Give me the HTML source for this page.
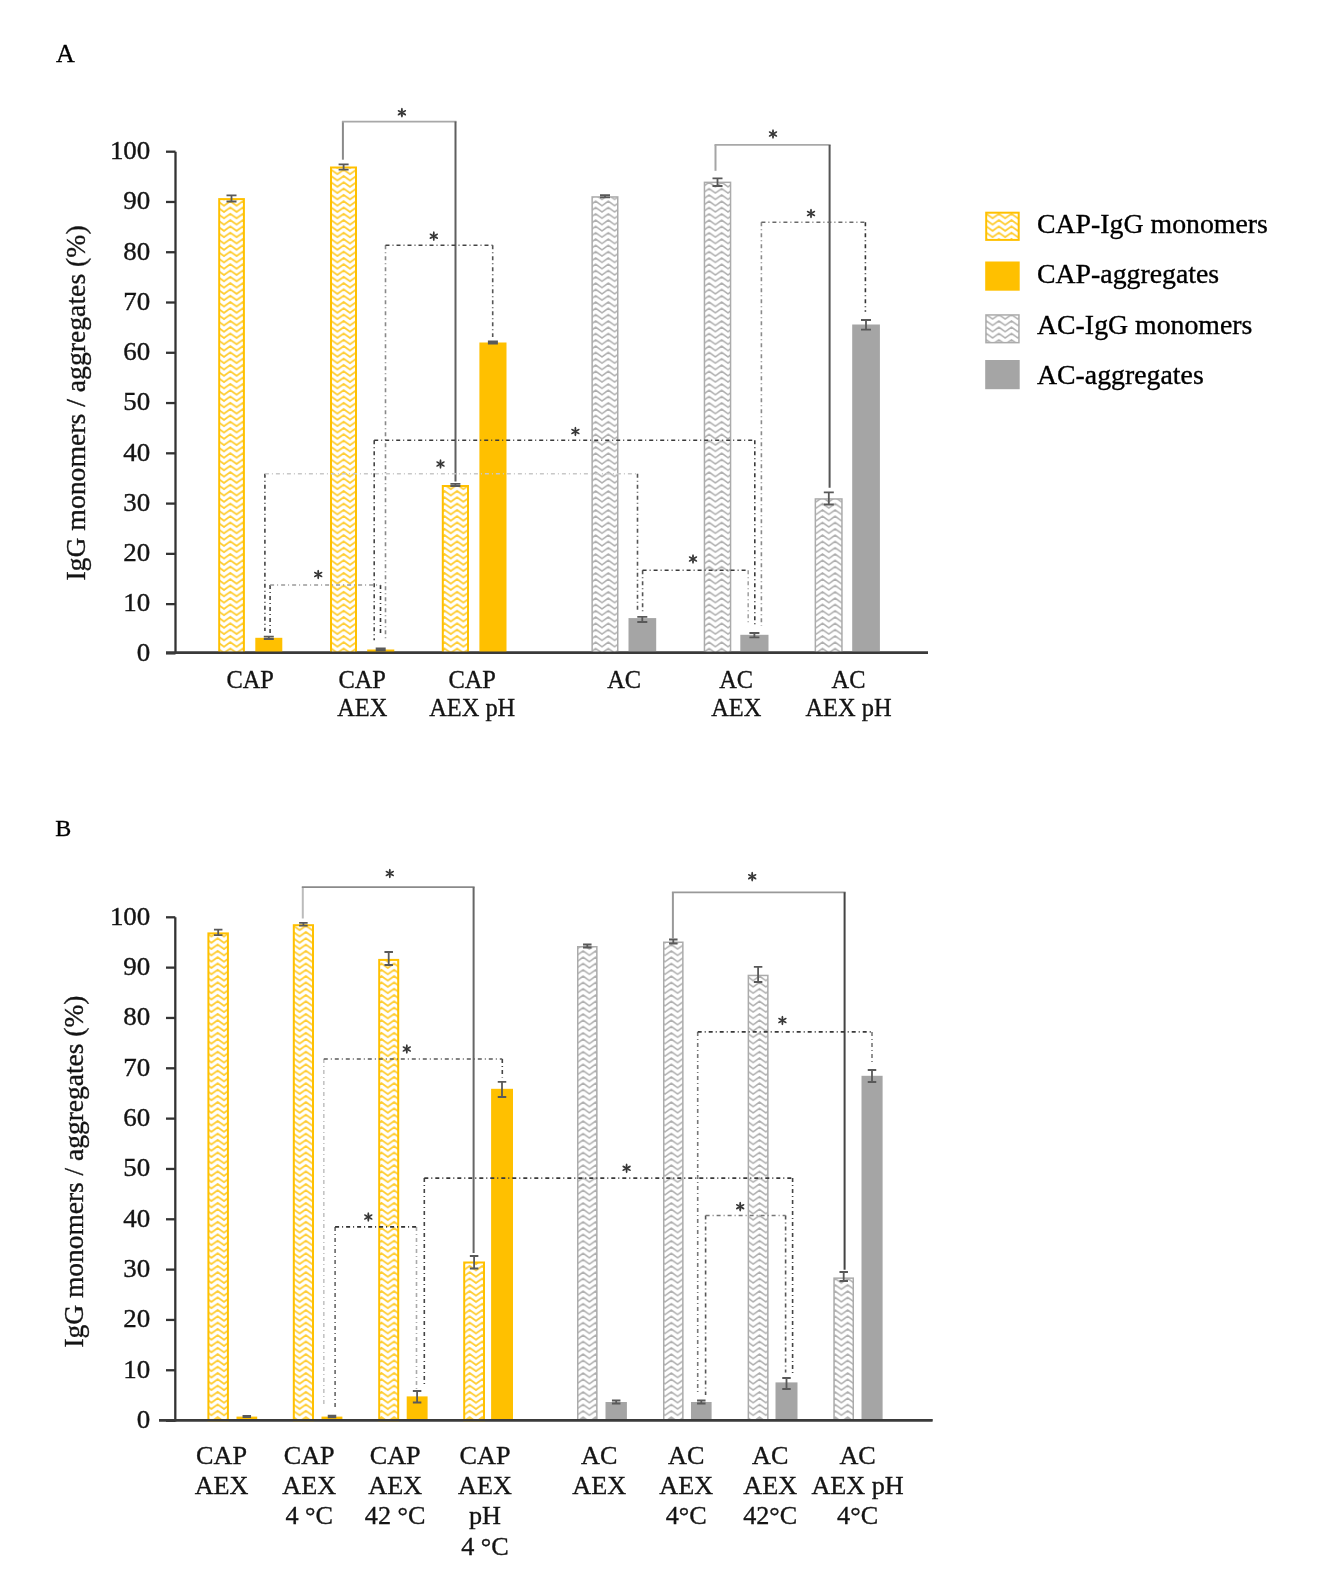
<!DOCTYPE html>
<html><head><meta charset="utf-8"><style>
html,body{margin:0;padding:0;background:#fff;}
svg{display:block;filter:blur(0.5px);}
text{font-family:"Liberation Serif", serif;stroke-width:0.35px;}
</style></head><body>
<svg width="1325" height="1580" viewBox="0 0 1325 1580">
<rect width="1325" height="1580" fill="#fff"/>
<defs>
<pattern id="wy" patternUnits="userSpaceOnUse" width="12.6" height="6.3" x="337.400" y="302.000"><rect width="12.6" height="6.3" fill="#fff"/><path d="M-2,-3.229L0,-1.800L6.300,-6.300L12.600,-1.800L14.600,-3.229M-2,3.071L0,4.500L6.300,0.000L12.600,4.500L14.600,3.071M-2,9.371L0,10.800L6.300,6.300L12.600,10.800L14.600,9.371" stroke="#FFC000" stroke-width="1.8" fill="none" stroke-opacity="0.8"/></pattern>
<pattern id="wg" patternUnits="userSpaceOnUse" width="12.6" height="6.3" x="337.400" y="302.000"><rect width="12.6" height="6.3" fill="#fff"/><path d="M-2,-3.229L0,-1.800L6.300,-6.300L12.600,-1.800L14.600,-3.229M-2,3.071L0,4.500L6.300,0.000L12.600,4.500L14.600,3.071M-2,9.371L0,10.800L6.300,6.300L12.600,10.800L14.600,9.371" stroke="#A0A0A0" stroke-width="1.55" fill="none" stroke-opacity="0.85"/></pattern>
</defs>
<text x="65.30" y="62.00" font-size="26" text-anchor="middle" fill="#000" stroke="#000" >A</text>
<path d="M175.5,151.70V654.00" stroke="#333" stroke-width="2.3" fill="none"/>
<path d="M166,653.40H175.5" stroke="#333" stroke-width="2.3" fill="none"/>
<text x="0" y="0" font-size="24.5" text-anchor="end" fill="#141414" stroke="#141414" transform="translate(150.3,660.70) scale(1.1,1)">0</text>
<path d="M166,604.13H175.5" stroke="#333" stroke-width="2.3" fill="none"/>
<text x="0" y="0" font-size="24.5" text-anchor="end" fill="#141414" stroke="#141414" transform="translate(150.3,611.43) scale(1.1,1)">10</text>
<path d="M166,553.86H175.5" stroke="#333" stroke-width="2.3" fill="none"/>
<text x="0" y="0" font-size="24.5" text-anchor="end" fill="#141414" stroke="#141414" transform="translate(150.3,561.16) scale(1.1,1)">20</text>
<path d="M166,503.59H175.5" stroke="#333" stroke-width="2.3" fill="none"/>
<text x="0" y="0" font-size="24.5" text-anchor="end" fill="#141414" stroke="#141414" transform="translate(150.3,510.89) scale(1.1,1)">30</text>
<path d="M166,453.32H175.5" stroke="#333" stroke-width="2.3" fill="none"/>
<text x="0" y="0" font-size="24.5" text-anchor="end" fill="#141414" stroke="#141414" transform="translate(150.3,460.62) scale(1.1,1)">40</text>
<path d="M166,403.05H175.5" stroke="#333" stroke-width="2.3" fill="none"/>
<text x="0" y="0" font-size="24.5" text-anchor="end" fill="#141414" stroke="#141414" transform="translate(150.3,410.35) scale(1.1,1)">50</text>
<path d="M166,352.78H175.5" stroke="#333" stroke-width="2.3" fill="none"/>
<text x="0" y="0" font-size="24.5" text-anchor="end" fill="#141414" stroke="#141414" transform="translate(150.3,360.08) scale(1.1,1)">60</text>
<path d="M166,302.51H175.5" stroke="#333" stroke-width="2.3" fill="none"/>
<text x="0" y="0" font-size="24.5" text-anchor="end" fill="#141414" stroke="#141414" transform="translate(150.3,309.81) scale(1.1,1)">70</text>
<path d="M166,252.24H175.5" stroke="#333" stroke-width="2.3" fill="none"/>
<text x="0" y="0" font-size="24.5" text-anchor="end" fill="#141414" stroke="#141414" transform="translate(150.3,259.54) scale(1.1,1)">80</text>
<path d="M166,201.97H175.5" stroke="#333" stroke-width="2.3" fill="none"/>
<text x="0" y="0" font-size="24.5" text-anchor="end" fill="#141414" stroke="#141414" transform="translate(150.3,209.27) scale(1.1,1)">90</text>
<path d="M166,151.70H175.5" stroke="#333" stroke-width="2.3" fill="none"/>
<text x="0" y="0" font-size="24.5" text-anchor="end" fill="#141414" stroke="#141414" transform="translate(150.3,159.00) scale(1.1,1)">100</text>
<path d="M166,652.80H928" stroke="#3a3a3a" stroke-width="2.6" fill="none"/>
<rect x="219.20" y="199.10" width="24.70" height="453.70" fill="url(#wy)" stroke="#FFC000" stroke-width="2.0"/>
<rect x="255.30" y="637.80" width="27.00" height="15.00" fill="#FFC000"/>
<rect x="331.00" y="167.50" width="25.00" height="485.30" fill="url(#wy)" stroke="#FFC000" stroke-width="2.0"/>
<rect x="367.20" y="649.50" width="27.10" height="3.30" fill="#FFC000"/>
<rect x="442.80" y="486.00" width="25.20" height="166.80" fill="url(#wy)" stroke="#FFC000" stroke-width="2.0"/>
<rect x="479.40" y="342.50" width="27.10" height="310.30" fill="#FFC000"/>
<rect x="592.15" y="196.95" width="25.60" height="455.85" fill="url(#wg)" stroke="#ABABAB" stroke-width="1.5"/>
<rect x="628.50" y="618.10" width="27.70" height="34.70" fill="#A5A5A5"/>
<rect x="704.45" y="182.35" width="26.10" height="470.45" fill="url(#wg)" stroke="#ABABAB" stroke-width="1.5"/>
<rect x="740.30" y="634.80" width="28.20" height="18.00" fill="#A5A5A5"/>
<rect x="815.35" y="498.95" width="26.60" height="153.85" fill="url(#wg)" stroke="#ABABAB" stroke-width="1.5"/>
<rect x="852.20" y="324.50" width="27.70" height="328.30" fill="#A5A5A5"/>
<path d="M166,652.80H928" stroke="#3a3a3a" stroke-width="2.6" fill="none"/>
<path d="M226.50,195.30H236.50M231.50,195.30V201.50M226.50,201.50H236.50" stroke="#595959" stroke-width="1.8" fill="none"/>
<path d="M263.80,636.60H273.80M268.80,636.60V639.00M263.80,639.00H273.80" stroke="#595959" stroke-width="1.8" fill="none"/>
<path d="M338.60,164.40H348.60M343.60,164.40V169.70M338.60,169.70H348.60" stroke="#595959" stroke-width="1.8" fill="none"/>
<path d="M375.70,648.50H385.70M380.70,648.50V650.50M375.70,650.50H385.70" stroke="#595959" stroke-width="1.8" fill="none"/>
<path d="M450.40,483.80H460.40M455.40,483.80V486.00M450.40,486.00H460.40" stroke="#595959" stroke-width="1.8" fill="none"/>
<path d="M487.90,341.50H497.90M492.90,341.50V343.50M487.90,343.50H497.90" stroke="#595959" stroke-width="1.8" fill="none"/>
<path d="M600.00,195.20H610.00M605.00,195.20V197.40M600.00,197.40H610.00" stroke="#595959" stroke-width="1.8" fill="none"/>
<path d="M637.30,616.80H647.30M642.30,616.80V622.00M637.30,622.00H647.30" stroke="#595959" stroke-width="1.8" fill="none"/>
<path d="M712.50,178.30H722.50M717.50,178.30V186.00M712.50,186.00H722.50" stroke="#595959" stroke-width="1.8" fill="none"/>
<path d="M749.40,633.00H759.40M754.40,633.00V637.40M749.40,637.40H759.40" stroke="#595959" stroke-width="1.8" fill="none"/>
<path d="M823.80,492.30H833.80M828.80,492.30V504.50M823.80,504.50H833.80" stroke="#595959" stroke-width="1.8" fill="none"/>
<path d="M861.00,320.00H871.00M866.00,320.00V329.70M861.00,329.70H871.00" stroke="#595959" stroke-width="1.8" fill="none"/>
<path d="M342.90,159.70V121.60" stroke="#8a8a8a" stroke-width="2" fill="none"/>
<path d="M341.90,121.60H456.50" stroke="#a8a8a8" stroke-width="1.8" fill="none"/>
<path d="M455.50,121.60V481.50" stroke="#5f5f5f" stroke-width="2" fill="none"/>
<g transform="translate(401.90,112.70) scale(1.0)" fill="#363636"><ellipse cx="0" cy="-2.45" rx="0.95" ry="2.4" transform="rotate(0)"/><ellipse cx="0" cy="-2.45" rx="0.95" ry="2.4" transform="rotate(-60)"/><ellipse cx="0" cy="-2.45" rx="0.95" ry="2.4" transform="rotate(-120)"/><ellipse cx="0" cy="-2.45" rx="0.95" ry="2.4" transform="rotate(-180)"/><ellipse cx="0" cy="-2.45" rx="0.95" ry="2.4" transform="rotate(-240)"/><ellipse cx="0" cy="-2.45" rx="0.95" ry="2.4" transform="rotate(60)"/><circle r="1.0"/></g>
<path d="M715.50,170.80V144.90" stroke="#a5a5a5" stroke-width="2" fill="none"/>
<path d="M714.50,144.90H830.60" stroke="#a8a8a8" stroke-width="1.8" fill="none"/>
<path d="M829.60,144.90V487.70" stroke="#555" stroke-width="2" fill="none"/>
<g transform="translate(773.00,134.00) scale(1.0)" fill="#363636"><ellipse cx="0" cy="-2.45" rx="0.95" ry="2.4" transform="rotate(0)"/><ellipse cx="0" cy="-2.45" rx="0.95" ry="2.4" transform="rotate(-60)"/><ellipse cx="0" cy="-2.45" rx="0.95" ry="2.4" transform="rotate(-120)"/><ellipse cx="0" cy="-2.45" rx="0.95" ry="2.4" transform="rotate(-180)"/><ellipse cx="0" cy="-2.45" rx="0.95" ry="2.4" transform="rotate(-240)"/><ellipse cx="0" cy="-2.45" rx="0.95" ry="2.4" transform="rotate(60)"/><circle r="1.0"/></g>
<path d="M385.50,245.30V639.00" stroke="#888" stroke-width="1.6" stroke-dasharray="4 3 1 3" fill="none"/>
<path d="M492.70,245.30V337.00" stroke="#555" stroke-width="1.6" stroke-dasharray="4 3 1 3" fill="none"/>
<path d="M385.50,245.30H492.70" stroke="#444" stroke-width="1.6" stroke-dasharray="4 3 1 3" fill="none"/>
<g transform="translate(433.80,236.20) scale(1.0)" fill="#363636"><ellipse cx="0" cy="-2.45" rx="0.95" ry="2.4" transform="rotate(0)"/><ellipse cx="0" cy="-2.45" rx="0.95" ry="2.4" transform="rotate(-60)"/><ellipse cx="0" cy="-2.45" rx="0.95" ry="2.4" transform="rotate(-120)"/><ellipse cx="0" cy="-2.45" rx="0.95" ry="2.4" transform="rotate(-180)"/><ellipse cx="0" cy="-2.45" rx="0.95" ry="2.4" transform="rotate(-240)"/><ellipse cx="0" cy="-2.45" rx="0.95" ry="2.4" transform="rotate(60)"/><circle r="1.0"/></g>
<path d="M761.40,222.30V625.80" stroke="#8a8a8a" stroke-width="1.6" stroke-dasharray="4 3 1 3" fill="none"/>
<path d="M865.40,222.30V311.70" stroke="#333" stroke-width="1.6" stroke-dasharray="4 3 1 3" fill="none"/>
<path d="M761.40,222.30H865.40" stroke="#6a6a6a" stroke-width="1.6" stroke-dasharray="4 3 1 3" fill="none"/>
<g transform="translate(811.00,213.50) scale(1.0)" fill="#363636"><ellipse cx="0" cy="-2.45" rx="0.95" ry="2.4" transform="rotate(0)"/><ellipse cx="0" cy="-2.45" rx="0.95" ry="2.4" transform="rotate(-60)"/><ellipse cx="0" cy="-2.45" rx="0.95" ry="2.4" transform="rotate(-120)"/><ellipse cx="0" cy="-2.45" rx="0.95" ry="2.4" transform="rotate(-180)"/><ellipse cx="0" cy="-2.45" rx="0.95" ry="2.4" transform="rotate(-240)"/><ellipse cx="0" cy="-2.45" rx="0.95" ry="2.4" transform="rotate(60)"/><circle r="1.0"/></g>
<path d="M374.20,440.30V640.30" stroke="#444" stroke-width="1.6" stroke-dasharray="4 3 1 3" fill="none"/>
<path d="M754.80,440.30V624.30" stroke="#3a3a3a" stroke-width="1.6" stroke-dasharray="4 3 1 3" fill="none"/>
<path d="M374.20,440.30H754.80" stroke="#3a3a3a" stroke-width="1.6" stroke-dasharray="4 3 1 3" fill="none"/>
<g transform="translate(575.40,431.50) scale(1.0)" fill="#363636"><ellipse cx="0" cy="-2.45" rx="0.95" ry="2.4" transform="rotate(0)"/><ellipse cx="0" cy="-2.45" rx="0.95" ry="2.4" transform="rotate(-60)"/><ellipse cx="0" cy="-2.45" rx="0.95" ry="2.4" transform="rotate(-120)"/><ellipse cx="0" cy="-2.45" rx="0.95" ry="2.4" transform="rotate(-180)"/><ellipse cx="0" cy="-2.45" rx="0.95" ry="2.4" transform="rotate(-240)"/><ellipse cx="0" cy="-2.45" rx="0.95" ry="2.4" transform="rotate(60)"/><circle r="1.0"/></g>
<path d="M264.90,473.70V631.00" stroke="#444" stroke-width="1.6" stroke-dasharray="4 3 1 3" fill="none"/>
<path d="M637.50,473.70V610.40" stroke="#555" stroke-width="1.6" stroke-dasharray="4 3 1 3" fill="none"/>
<path d="M264.90,473.70H637.50" stroke="#c8c8c8" stroke-width="1.6" stroke-dasharray="4 3 1 3" fill="none"/>
<g transform="translate(440.50,464.00) scale(1.0)" fill="#363636"><ellipse cx="0" cy="-2.45" rx="0.95" ry="2.4" transform="rotate(0)"/><ellipse cx="0" cy="-2.45" rx="0.95" ry="2.4" transform="rotate(-60)"/><ellipse cx="0" cy="-2.45" rx="0.95" ry="2.4" transform="rotate(-120)"/><ellipse cx="0" cy="-2.45" rx="0.95" ry="2.4" transform="rotate(-180)"/><ellipse cx="0" cy="-2.45" rx="0.95" ry="2.4" transform="rotate(-240)"/><ellipse cx="0" cy="-2.45" rx="0.95" ry="2.4" transform="rotate(60)"/><circle r="1.0"/></g>
<path d="M270.10,585.00V634.00" stroke="#444" stroke-width="1.6" stroke-dasharray="4 3 1 3" fill="none"/>
<path d="M380.50,585.00V634.00" stroke="#3a3a3a" stroke-width="1.6" stroke-dasharray="4 3 1 3" fill="none"/>
<path d="M270.10,585.00H380.50" stroke="#9a9a9a" stroke-width="1.6" stroke-dasharray="4 3 1 3" fill="none"/>
<g transform="translate(318.20,574.50) scale(1.0)" fill="#363636"><ellipse cx="0" cy="-2.45" rx="0.95" ry="2.4" transform="rotate(0)"/><ellipse cx="0" cy="-2.45" rx="0.95" ry="2.4" transform="rotate(-60)"/><ellipse cx="0" cy="-2.45" rx="0.95" ry="2.4" transform="rotate(-120)"/><ellipse cx="0" cy="-2.45" rx="0.95" ry="2.4" transform="rotate(-180)"/><ellipse cx="0" cy="-2.45" rx="0.95" ry="2.4" transform="rotate(-240)"/><ellipse cx="0" cy="-2.45" rx="0.95" ry="2.4" transform="rotate(60)"/><circle r="1.0"/></g>
<path d="M642.60,570.20V614.30" stroke="#555" stroke-width="1.6" stroke-dasharray="4 3 1 3" fill="none"/>
<path d="M748.20,570.20V623.20" stroke="#a5a5a5" stroke-width="1.6" stroke-dasharray="4 3 1 3" fill="none"/>
<path d="M642.60,570.20H748.20" stroke="#3a3a3a" stroke-width="1.6" stroke-dasharray="4 3 1 3" fill="none"/>
<g transform="translate(693.00,559.00) scale(1.0)" fill="#363636"><ellipse cx="0" cy="-2.45" rx="0.95" ry="2.4" transform="rotate(0)"/><ellipse cx="0" cy="-2.45" rx="0.95" ry="2.4" transform="rotate(-60)"/><ellipse cx="0" cy="-2.45" rx="0.95" ry="2.4" transform="rotate(-120)"/><ellipse cx="0" cy="-2.45" rx="0.95" ry="2.4" transform="rotate(-180)"/><ellipse cx="0" cy="-2.45" rx="0.95" ry="2.4" transform="rotate(-240)"/><ellipse cx="0" cy="-2.45" rx="0.95" ry="2.4" transform="rotate(60)"/><circle r="1.0"/></g>
<text x="250.20" y="688.40" font-size="24.4" text-anchor="middle" fill="#141414" stroke="#141414" >CAP</text>
<text x="362.20" y="688.40" font-size="24.4" text-anchor="middle" fill="#141414" stroke="#141414" >CAP</text>
<text x="362.20" y="715.60" font-size="24.4" text-anchor="middle" fill="#141414" stroke="#141414" >AEX</text>
<text x="472.20" y="688.40" font-size="24.4" text-anchor="middle" fill="#141414" stroke="#141414" >CAP</text>
<text x="472.20" y="715.60" font-size="24.4" text-anchor="middle" fill="#141414" stroke="#141414" >AEX pH</text>
<text x="624.20" y="688.40" font-size="24.4" text-anchor="middle" fill="#141414" stroke="#141414" >AC</text>
<text x="736.20" y="688.40" font-size="24.4" text-anchor="middle" fill="#141414" stroke="#141414" >AC</text>
<text x="736.20" y="715.60" font-size="24.4" text-anchor="middle" fill="#141414" stroke="#141414" >AEX</text>
<text x="848.50" y="688.40" font-size="24.4" text-anchor="middle" fill="#141414" stroke="#141414" >AC</text>
<text x="848.50" y="715.60" font-size="24.4" text-anchor="middle" fill="#141414" stroke="#141414" >AEX pH</text>
<text x="0" y="0" font-size="27.7" text-anchor="middle" fill="#141414" stroke="#141414" transform="translate(85.1,403.0) rotate(-90)">IgG monomers / aggregates (%)</text>
<rect x="986.20" y="212.70" width="32.50" height="27.20" fill="url(#wy)" stroke="#FFC000" stroke-width="2.0"/>
<text x="1037.00" y="233.20" font-size="27.8" text-anchor="start" fill="#000" stroke="#000" >CAP-IgG monomers</text>
<rect x="985.20" y="261.50" width="34.50" height="29.20" fill="#FFC000"/>
<text x="1037.00" y="283.20" font-size="27.8" text-anchor="start" fill="#000" stroke="#000" >CAP-aggregates</text>
<rect x="985.95" y="314.95" width="33.00" height="27.70" fill="url(#wg)" stroke="#ABABAB" stroke-width="1.5"/>
<text x="1037.00" y="333.70" font-size="27.8" text-anchor="start" fill="#000" stroke="#000" >AC-IgG monomers</text>
<rect x="985.20" y="360.00" width="34.50" height="29.20" fill="#A5A5A5"/>
<text x="1037.00" y="384.40" font-size="27.8" text-anchor="start" fill="#000" stroke="#000" >AC-aggregates</text>
<text x="63.30" y="835.60" font-size="24" text-anchor="middle" fill="#000" stroke="#000" >B</text>
<path d="M175.3,917.30V1421.50" stroke="#333" stroke-width="2.3" fill="none"/>
<path d="M166,1420.80H175.3" stroke="#333" stroke-width="2.3" fill="none"/>
<text x="0" y="0" font-size="24.5" text-anchor="end" fill="#141414" stroke="#141414" transform="translate(150.3,1428.10) scale(1.1,1)">0</text>
<path d="M166,1370.27H175.3" stroke="#333" stroke-width="2.3" fill="none"/>
<text x="0" y="0" font-size="24.5" text-anchor="end" fill="#141414" stroke="#141414" transform="translate(150.3,1377.57) scale(1.1,1)">10</text>
<path d="M166,1319.94H175.3" stroke="#333" stroke-width="2.3" fill="none"/>
<text x="0" y="0" font-size="24.5" text-anchor="end" fill="#141414" stroke="#141414" transform="translate(150.3,1327.24) scale(1.1,1)">20</text>
<path d="M166,1269.61H175.3" stroke="#333" stroke-width="2.3" fill="none"/>
<text x="0" y="0" font-size="24.5" text-anchor="end" fill="#141414" stroke="#141414" transform="translate(150.3,1276.91) scale(1.1,1)">30</text>
<path d="M166,1219.28H175.3" stroke="#333" stroke-width="2.3" fill="none"/>
<text x="0" y="0" font-size="24.5" text-anchor="end" fill="#141414" stroke="#141414" transform="translate(150.3,1226.58) scale(1.1,1)">40</text>
<path d="M166,1168.95H175.3" stroke="#333" stroke-width="2.3" fill="none"/>
<text x="0" y="0" font-size="24.5" text-anchor="end" fill="#141414" stroke="#141414" transform="translate(150.3,1176.25) scale(1.1,1)">50</text>
<path d="M166,1118.62H175.3" stroke="#333" stroke-width="2.3" fill="none"/>
<text x="0" y="0" font-size="24.5" text-anchor="end" fill="#141414" stroke="#141414" transform="translate(150.3,1125.92) scale(1.1,1)">60</text>
<path d="M166,1068.29H175.3" stroke="#333" stroke-width="2.3" fill="none"/>
<text x="0" y="0" font-size="24.5" text-anchor="end" fill="#141414" stroke="#141414" transform="translate(150.3,1075.59) scale(1.1,1)">70</text>
<path d="M166,1017.96H175.3" stroke="#333" stroke-width="2.3" fill="none"/>
<text x="0" y="0" font-size="24.5" text-anchor="end" fill="#141414" stroke="#141414" transform="translate(150.3,1025.26) scale(1.1,1)">80</text>
<path d="M166,967.63H175.3" stroke="#333" stroke-width="2.3" fill="none"/>
<text x="0" y="0" font-size="24.5" text-anchor="end" fill="#141414" stroke="#141414" transform="translate(150.3,974.93) scale(1.1,1)">90</text>
<path d="M166,917.30H175.3" stroke="#333" stroke-width="2.3" fill="none"/>
<text x="0" y="0" font-size="24.5" text-anchor="end" fill="#141414" stroke="#141414" transform="translate(150.3,924.60) scale(1.1,1)">100</text>
<path d="M159,1420.30H932.5" stroke="#3a3a3a" stroke-width="2.5" fill="none"/>
<rect x="208.40" y="933.40" width="19.50" height="486.90" fill="url(#wy)" stroke="#FFC000" stroke-width="2.0"/>
<rect x="236.50" y="1416.60" width="20.70" height="3.70" fill="#FFC000"/>
<rect x="293.80" y="925.20" width="19.20" height="495.10" fill="url(#wy)" stroke="#FFC000" stroke-width="2.0"/>
<rect x="321.50" y="1416.60" width="20.90" height="3.70" fill="#FFC000"/>
<rect x="379.20" y="959.90" width="19.00" height="460.40" fill="url(#wy)" stroke="#FFC000" stroke-width="2.0"/>
<rect x="406.70" y="1396.40" width="20.90" height="23.90" fill="#FFC000"/>
<rect x="464.20" y="1262.50" width="19.80" height="157.80" fill="url(#wy)" stroke="#FFC000" stroke-width="2.0"/>
<rect x="491.10" y="1088.80" width="21.90" height="331.50" fill="#FFC000"/>
<rect x="577.75" y="946.75" width="19.10" height="473.55" fill="url(#wg)" stroke="#ABABAB" stroke-width="1.5"/>
<rect x="605.50" y="1402.00" width="21.40" height="18.30" fill="#A5A5A5"/>
<rect x="663.75" y="942.25" width="19.10" height="478.05" fill="url(#wg)" stroke="#ABABAB" stroke-width="1.5"/>
<rect x="691.00" y="1402.00" width="20.60" height="18.30" fill="#A5A5A5"/>
<rect x="748.35" y="975.45" width="19.50" height="444.85" fill="url(#wg)" stroke="#ABABAB" stroke-width="1.5"/>
<rect x="775.50" y="1382.40" width="22.00" height="37.90" fill="#A5A5A5"/>
<rect x="834.05" y="1278.15" width="19.20" height="142.15" fill="url(#wg)" stroke="#ABABAB" stroke-width="1.5"/>
<rect x="861.50" y="1075.80" width="21.10" height="344.50" fill="#A5A5A5"/>
<path d="M159,1420.30H932.5" stroke="#3a3a3a" stroke-width="2.5" fill="none"/>
<path d="M213.95,929.60H222.45M218.20,929.60V935.20M213.95,935.20H222.45" stroke="#595959" stroke-width="1.8" fill="none"/>
<path d="M242.55,1415.80H251.05M246.80,1415.80V1417.20M242.55,1417.20H251.05" stroke="#595959" stroke-width="1.8" fill="none"/>
<path d="M299.15,922.80H307.65M303.40,922.80V925.60M299.15,925.60H307.65" stroke="#595959" stroke-width="1.8" fill="none"/>
<path d="M327.75,1415.60H336.25M332.00,1415.60V1417.40M327.75,1417.40H336.25" stroke="#595959" stroke-width="1.8" fill="none"/>
<path d="M384.45,952.00H392.95M388.70,952.00V965.00M384.45,965.00H392.95" stroke="#595959" stroke-width="1.8" fill="none"/>
<path d="M412.85,1391.00H421.35M417.10,1391.00V1402.50M412.85,1402.50H421.35" stroke="#595959" stroke-width="1.8" fill="none"/>
<path d="M469.85,1256.00H478.35M474.10,1256.00V1268.50M469.85,1268.50H478.35" stroke="#595959" stroke-width="1.8" fill="none"/>
<path d="M497.75,1081.80H506.25M502.00,1081.80V1097.00M497.75,1097.00H506.25" stroke="#595959" stroke-width="1.8" fill="none"/>
<path d="M583.05,944.50H591.55M587.30,944.50V947.50M583.05,947.50H591.55" stroke="#595959" stroke-width="1.8" fill="none"/>
<path d="M611.95,1400.50H620.45M616.20,1400.50V1403.50M611.95,1403.50H620.45" stroke="#595959" stroke-width="1.8" fill="none"/>
<path d="M669.05,939.50H677.55M673.30,939.50V943.50M669.05,943.50H677.55" stroke="#595959" stroke-width="1.8" fill="none"/>
<path d="M697.05,1400.50H705.55M701.30,1400.50V1403.50M697.05,1403.50H705.55" stroke="#595959" stroke-width="1.8" fill="none"/>
<path d="M753.85,966.80H762.35M758.10,966.80V982.00M753.85,982.00H762.35" stroke="#595959" stroke-width="1.8" fill="none"/>
<path d="M782.25,1378.00H790.75M786.50,1378.00V1389.00M782.25,1389.00H790.75" stroke="#595959" stroke-width="1.8" fill="none"/>
<path d="M839.45,1272.00H847.95M843.70,1272.00V1281.00M839.45,1281.00H847.95" stroke="#595959" stroke-width="1.8" fill="none"/>
<path d="M867.75,1070.00H876.25M872.00,1070.00V1082.00M867.75,1082.00H876.25" stroke="#595959" stroke-width="1.8" fill="none"/>
<path d="M302.80,918.50V887.20" stroke="#bbb" stroke-width="2" fill="none"/>
<path d="M301.80,887.20H474.60" stroke="#8a8a8a" stroke-width="1.8" fill="none"/>
<path d="M473.60,887.20V1253.10" stroke="#666" stroke-width="2" fill="none"/>
<g transform="translate(389.80,873.50) scale(1.0)" fill="#363636"><ellipse cx="0" cy="-2.45" rx="0.95" ry="2.4" transform="rotate(0)"/><ellipse cx="0" cy="-2.45" rx="0.95" ry="2.4" transform="rotate(-60)"/><ellipse cx="0" cy="-2.45" rx="0.95" ry="2.4" transform="rotate(-120)"/><ellipse cx="0" cy="-2.45" rx="0.95" ry="2.4" transform="rotate(-180)"/><ellipse cx="0" cy="-2.45" rx="0.95" ry="2.4" transform="rotate(-240)"/><ellipse cx="0" cy="-2.45" rx="0.95" ry="2.4" transform="rotate(60)"/><circle r="1.0"/></g>
<path d="M323.80,1059.00V1405.30" stroke="#c4c4c4" stroke-width="1.6" stroke-dasharray="4 3 1 3" fill="none"/>
<path d="M502.30,1059.00V1077.50" stroke="#444" stroke-width="1.6" stroke-dasharray="4 3 1 3" fill="none"/>
<path d="M323.80,1059.00H502.30" stroke="#5a5a5a" stroke-width="1.6" stroke-dasharray="4 3 1 3" fill="none"/>
<g transform="translate(406.80,1049.00) scale(1.0)" fill="#363636"><ellipse cx="0" cy="-2.45" rx="0.95" ry="2.4" transform="rotate(0)"/><ellipse cx="0" cy="-2.45" rx="0.95" ry="2.4" transform="rotate(-60)"/><ellipse cx="0" cy="-2.45" rx="0.95" ry="2.4" transform="rotate(-120)"/><ellipse cx="0" cy="-2.45" rx="0.95" ry="2.4" transform="rotate(-180)"/><ellipse cx="0" cy="-2.45" rx="0.95" ry="2.4" transform="rotate(-240)"/><ellipse cx="0" cy="-2.45" rx="0.95" ry="2.4" transform="rotate(60)"/><circle r="1.0"/></g>
<path d="M335.10,1226.90V1408.00" stroke="#666" stroke-width="1.6" stroke-dasharray="4 3 1 3" fill="none"/>
<path d="M416.50,1226.90V1390.00" stroke="#aaa" stroke-width="1.6" stroke-dasharray="4 3 1 3" fill="none"/>
<path d="M335.10,1226.90H416.50" stroke="#333" stroke-width="1.6" stroke-dasharray="4 3 1 3" fill="none"/>
<g transform="translate(368.30,1217.00) scale(1.0)" fill="#363636"><ellipse cx="0" cy="-2.45" rx="0.95" ry="2.4" transform="rotate(0)"/><ellipse cx="0" cy="-2.45" rx="0.95" ry="2.4" transform="rotate(-60)"/><ellipse cx="0" cy="-2.45" rx="0.95" ry="2.4" transform="rotate(-120)"/><ellipse cx="0" cy="-2.45" rx="0.95" ry="2.4" transform="rotate(-180)"/><ellipse cx="0" cy="-2.45" rx="0.95" ry="2.4" transform="rotate(-240)"/><ellipse cx="0" cy="-2.45" rx="0.95" ry="2.4" transform="rotate(60)"/><circle r="1.0"/></g>
<path d="M424.30,1178.10V1387.00" stroke="#444" stroke-width="1.6" stroke-dasharray="4 3 1 3" fill="none"/>
<path d="M792.60,1178.10V1375.50" stroke="#444" stroke-width="1.6" stroke-dasharray="4 3 1 3" fill="none"/>
<path d="M424.30,1178.10H792.60" stroke="#3a3a3a" stroke-width="1.6" stroke-dasharray="4 3 1 3" fill="none"/>
<g transform="translate(626.60,1168.30) scale(1.0)" fill="#363636"><ellipse cx="0" cy="-2.45" rx="0.95" ry="2.4" transform="rotate(0)"/><ellipse cx="0" cy="-2.45" rx="0.95" ry="2.4" transform="rotate(-60)"/><ellipse cx="0" cy="-2.45" rx="0.95" ry="2.4" transform="rotate(-120)"/><ellipse cx="0" cy="-2.45" rx="0.95" ry="2.4" transform="rotate(-180)"/><ellipse cx="0" cy="-2.45" rx="0.95" ry="2.4" transform="rotate(-240)"/><ellipse cx="0" cy="-2.45" rx="0.95" ry="2.4" transform="rotate(60)"/><circle r="1.0"/></g>
<path d="M672.90,939.00V892.30" stroke="#999" stroke-width="2" fill="none"/>
<path d="M671.90,892.30H845.60" stroke="#999" stroke-width="1.8" fill="none"/>
<path d="M844.60,892.30V1269.80" stroke="#444" stroke-width="2" fill="none"/>
<g transform="translate(752.20,876.70) scale(1.0)" fill="#363636"><ellipse cx="0" cy="-2.45" rx="0.95" ry="2.4" transform="rotate(0)"/><ellipse cx="0" cy="-2.45" rx="0.95" ry="2.4" transform="rotate(-60)"/><ellipse cx="0" cy="-2.45" rx="0.95" ry="2.4" transform="rotate(-120)"/><ellipse cx="0" cy="-2.45" rx="0.95" ry="2.4" transform="rotate(-180)"/><ellipse cx="0" cy="-2.45" rx="0.95" ry="2.4" transform="rotate(-240)"/><ellipse cx="0" cy="-2.45" rx="0.95" ry="2.4" transform="rotate(60)"/><circle r="1.0"/></g>
<path d="M697.70,1031.90V1395.00" stroke="#777" stroke-width="1.6" stroke-dasharray="4 3 1 3" fill="none"/>
<path d="M872.00,1031.90V1063.00" stroke="#777" stroke-width="1.6" stroke-dasharray="4 3 1 3" fill="none"/>
<path d="M697.70,1031.90H872.00" stroke="#3a3a3a" stroke-width="1.6" stroke-dasharray="4 3 1 3" fill="none"/>
<g transform="translate(782.40,1020.50) scale(1.0)" fill="#363636"><ellipse cx="0" cy="-2.45" rx="0.95" ry="2.4" transform="rotate(0)"/><ellipse cx="0" cy="-2.45" rx="0.95" ry="2.4" transform="rotate(-60)"/><ellipse cx="0" cy="-2.45" rx="0.95" ry="2.4" transform="rotate(-120)"/><ellipse cx="0" cy="-2.45" rx="0.95" ry="2.4" transform="rotate(-180)"/><ellipse cx="0" cy="-2.45" rx="0.95" ry="2.4" transform="rotate(-240)"/><ellipse cx="0" cy="-2.45" rx="0.95" ry="2.4" transform="rotate(60)"/><circle r="1.0"/></g>
<path d="M705.60,1215.50V1395.00" stroke="#555" stroke-width="1.6" stroke-dasharray="4 3 1 3" fill="none"/>
<path d="M785.60,1215.50V1372.50" stroke="#555" stroke-width="1.6" stroke-dasharray="4 3 1 3" fill="none"/>
<path d="M705.60,1215.50H785.60" stroke="#777" stroke-width="1.6" stroke-dasharray="4 3 1 3" fill="none"/>
<g transform="translate(740.20,1206.70) scale(1.0)" fill="#363636"><ellipse cx="0" cy="-2.45" rx="0.95" ry="2.4" transform="rotate(0)"/><ellipse cx="0" cy="-2.45" rx="0.95" ry="2.4" transform="rotate(-60)"/><ellipse cx="0" cy="-2.45" rx="0.95" ry="2.4" transform="rotate(-120)"/><ellipse cx="0" cy="-2.45" rx="0.95" ry="2.4" transform="rotate(-180)"/><ellipse cx="0" cy="-2.45" rx="0.95" ry="2.4" transform="rotate(-240)"/><ellipse cx="0" cy="-2.45" rx="0.95" ry="2.4" transform="rotate(60)"/><circle r="1.0"/></g>
<text x="221.60" y="1463.60" font-size="26.2" text-anchor="middle" fill="#141414" stroke="#141414" >CAP</text>
<text x="221.60" y="1494.00" font-size="26.2" text-anchor="middle" fill="#141414" stroke="#141414" >AEX</text>
<text x="309.20" y="1463.60" font-size="26.2" text-anchor="middle" fill="#141414" stroke="#141414" >CAP</text>
<text x="309.20" y="1494.00" font-size="26.2" text-anchor="middle" fill="#141414" stroke="#141414" >AEX</text>
<text x="309.20" y="1524.40" font-size="26.2" text-anchor="middle" fill="#141414" stroke="#141414" >4 °C</text>
<text x="395.20" y="1463.60" font-size="26.2" text-anchor="middle" fill="#141414" stroke="#141414" >CAP</text>
<text x="395.20" y="1494.00" font-size="26.2" text-anchor="middle" fill="#141414" stroke="#141414" >AEX</text>
<text x="395.20" y="1524.40" font-size="26.2" text-anchor="middle" fill="#141414" stroke="#141414" >42 °C</text>
<text x="485.00" y="1463.60" font-size="26.2" text-anchor="middle" fill="#141414" stroke="#141414" >CAP</text>
<text x="485.00" y="1494.00" font-size="26.2" text-anchor="middle" fill="#141414" stroke="#141414" >AEX</text>
<text x="485.00" y="1524.40" font-size="26.2" text-anchor="middle" fill="#141414" stroke="#141414" >pH</text>
<text x="485.00" y="1554.80" font-size="26.2" text-anchor="middle" fill="#141414" stroke="#141414" >4 °C</text>
<text x="599.20" y="1463.60" font-size="26.2" text-anchor="middle" fill="#141414" stroke="#141414" >AC</text>
<text x="599.20" y="1494.00" font-size="26.2" text-anchor="middle" fill="#141414" stroke="#141414" >AEX</text>
<text x="686.20" y="1463.60" font-size="26.2" text-anchor="middle" fill="#141414" stroke="#141414" >AC</text>
<text x="686.20" y="1494.00" font-size="26.2" text-anchor="middle" fill="#141414" stroke="#141414" >AEX</text>
<text x="686.20" y="1524.40" font-size="26.2" text-anchor="middle" fill="#141414" stroke="#141414" >4°C</text>
<text x="770.20" y="1463.60" font-size="26.2" text-anchor="middle" fill="#141414" stroke="#141414" >AC</text>
<text x="770.20" y="1494.00" font-size="26.2" text-anchor="middle" fill="#141414" stroke="#141414" >AEX</text>
<text x="770.20" y="1524.40" font-size="26.2" text-anchor="middle" fill="#141414" stroke="#141414" >42°C</text>
<text x="857.60" y="1463.60" font-size="26.2" text-anchor="middle" fill="#141414" stroke="#141414" >AC</text>
<text x="857.60" y="1494.00" font-size="26.2" text-anchor="middle" fill="#141414" stroke="#141414" >AEX pH</text>
<text x="857.60" y="1524.40" font-size="26.2" text-anchor="middle" fill="#141414" stroke="#141414" >4°C</text>
<text x="0" y="0" font-size="27.45" text-anchor="middle" fill="#141414" stroke="#141414" transform="translate(83.2,1171.6) rotate(-90)">IgG monomers / aggregates (%)</text>
</svg>
</body></html>
